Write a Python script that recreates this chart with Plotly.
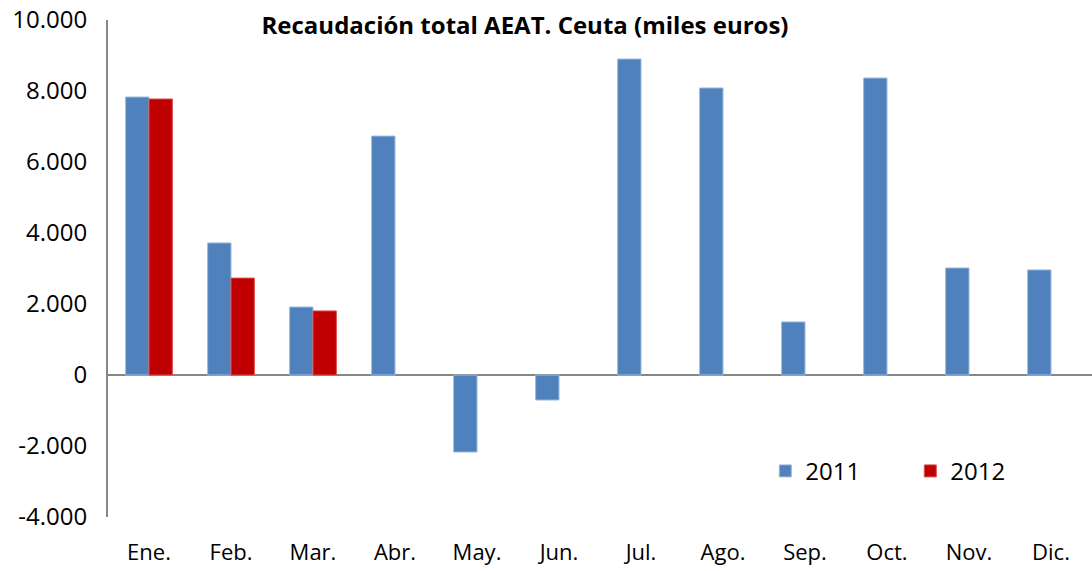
import plotly.graph_objects as go

months = ["Ene.", "Feb.", "Mar.", "Abr.", "May.", "Jun.", "Jul.", "Ago.", "Sep.", "Oct.", "Nov.", "Dic."]
v2011 = [7830, 3720, 1915, 6730, -2170, -705, 8900, 8085, 1495, 8365, 3015, 2960]
v2012 = [7775, 2730, 1805, None, None, None, None, None, None, None, None, None]
yticks = [-4000, -2000, 0, 2000, 4000, 6000, 8000, 10000]
ytext = ["-4.000", "-2.000", "0", "2.000", "4.000", "6.000", "8.000", "10.000"]

FONT = "Open Sans"
W, H = 1092, 571

fig = go.Figure()
fig.add_trace(go.Bar(x=months, y=v2011, name="2011", marker=dict(color="#4F81BD", line=dict(color="#9DB9DD", width=1))))
fig.add_trace(go.Bar(x=months, y=v2012, name="2012", marker=dict(color="#C00000", line=dict(color="#D95050", width=1))))

fig.update_layout(
    width=W, height=H,
    margin=dict(l=108, r=0, t=20, b=54, autoexpand=False),
    plot_bgcolor="white", paper_bgcolor="white",
    barmode="group", bargap=0.43, bargroupgap=0,
    font=dict(family=FONT, size=24, color="black"),
    title=dict(text="<b>Recaudación total AEAT. Ceuta (miles euros)</b>", x=525 / W, xanchor="center",
               xref="container", yref="container", y=1 - 26 / H, yanchor="middle",
               font=dict(family=FONT, size=24, color="black")),
    legend=dict(orientation="h", x=0.668, y=0.092, xanchor="left", yanchor="middle", font=dict(size=24),
                itemwidth=30, entrywidth=100, entrywidthmode="pixels", traceorder="normal",
                bgcolor="rgba(0,0,0,0)"),
    showlegend=True,
)
fig.update_yaxes(range=[-4000, 10000], tickvals=yticks, ticktext=ytext, showgrid=False,
                 showline=True, linecolor="#868686", linewidth=2, zeroline=True, zerolinecolor="#868686",
                 zerolinewidth=2, ticks="outside", ticklen=14, tickcolor="rgba(0,0,0,0)",
                 tickfont=dict(size=24), ticklabeloverflow="allow")
fig.update_xaxes(showgrid=False, showline=False, ticks="outside", ticklen=16, tickcolor="rgba(0,0,0,0)",
                 tickfont=dict(size=22), ticklabeloverflow="allow")

fig.write_html("out.html", config={"displayModeBar": False},
               post_script="document.body.style.margin='0';")
